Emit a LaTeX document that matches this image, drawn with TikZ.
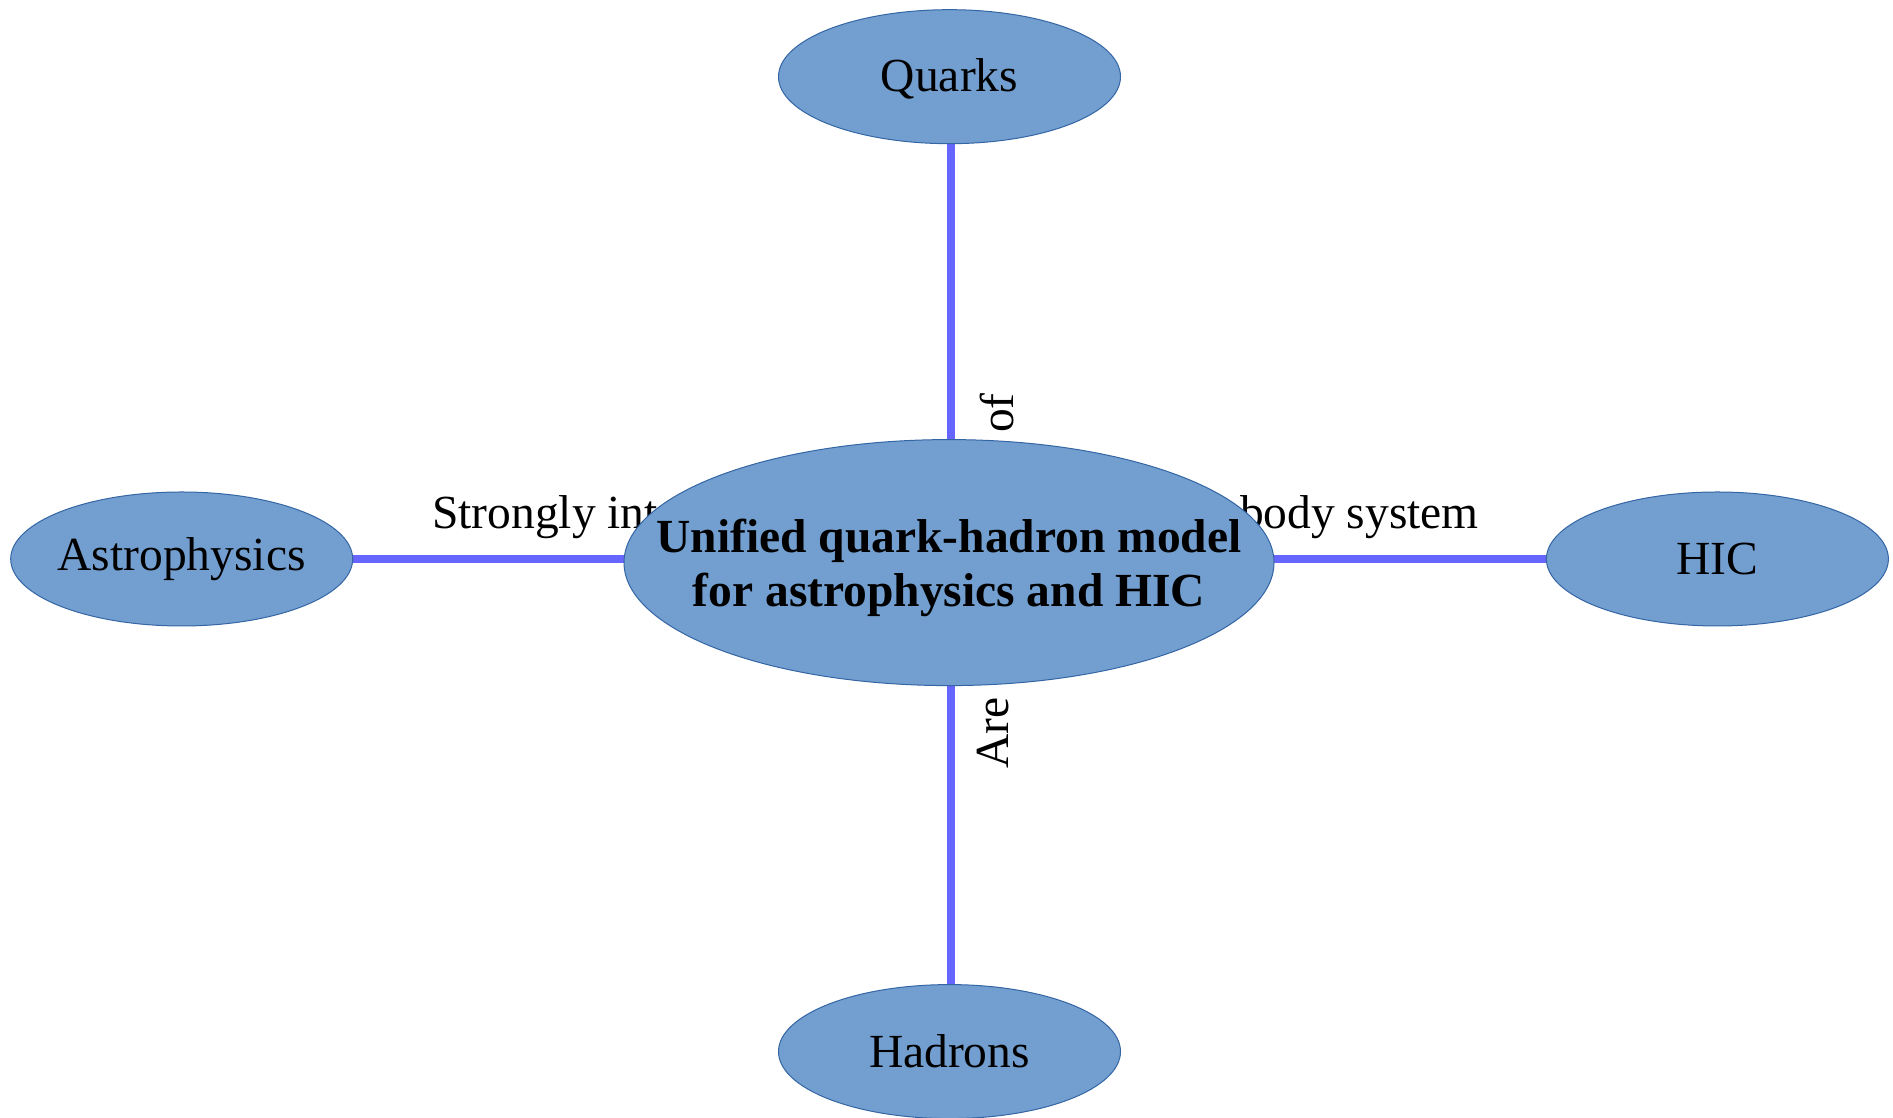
\documentclass[tikz,border=0pt]{standalone}
\usepackage{fontspec}
\setmainfont{Liberation Serif}
\usetikzlibrary{shapes.geometric,backgrounds}
\definecolor{bubfill}{HTML}{729FCF}
\definecolor{bubline}{HTML}{3465A4}
\definecolor{linkblue}{HTML}{6666FF}
\begin{document}
\begin{tikzpicture}[x=1pt,y=1pt,
  bub/.style={ellipse, draw=bubline, line width=1pt, fill=bubfill,
    minimum width=342pt, minimum height=134pt, inner sep=0pt,
    font=\fontsize{47.5}{54}\selectfont},
  link/.style={draw=linkblue, line width=8pt},
  lbl/.style={inner sep=0pt, font=\fontsize{47.5}{54}\selectfont}]
\useasboundingbox (0,0) rectangle (1893,1118);
\node[bub] (q) at (949.5,1041.3) {};
\node[lbl] (qt) at ([yshift=-2.5pt]q.center) {Quarks};
\node[bub] (h) at (949.5,66.4) {\makebox[0pt]{Hadrons}};
\node[bub] (a) at (181.7,559) {\makebox[0pt]{Astrophysics}};
\node[bub] (hic) at (1717.4,559) {\makebox[0pt]{HIC}};
\node[bub, minimum width=650pt, minimum height=246pt] (c) at (949,555.4) {};
\node[lbl, align=center, font=\fontsize{47.5}{54}\selectfont\bfseries] (ct)
  at ([yshift=-5.5pt]c.center) {Unified quark-hadron model\\for astrophysics and HIC};
\begin{pgfonlayer}{background}
\draw[link] ([xshift=1.5pt]q.south) -- ([xshift=1.5pt]h.north);
\draw[link] (a.east) -- (hic.west);
\node[lbl, anchor=west] (l1) at (432,601.3) {Strongly interacting};
\node[lbl, anchor=east] (l2) at (1479,601.3) {many-body system};
\node[lbl, rotate=90] (l3) at (996.6,705) {of};
\node[lbl, rotate=90] (l4) at (993,385) {Are};
\end{pgfonlayer}
\end{tikzpicture}
\end{document}
